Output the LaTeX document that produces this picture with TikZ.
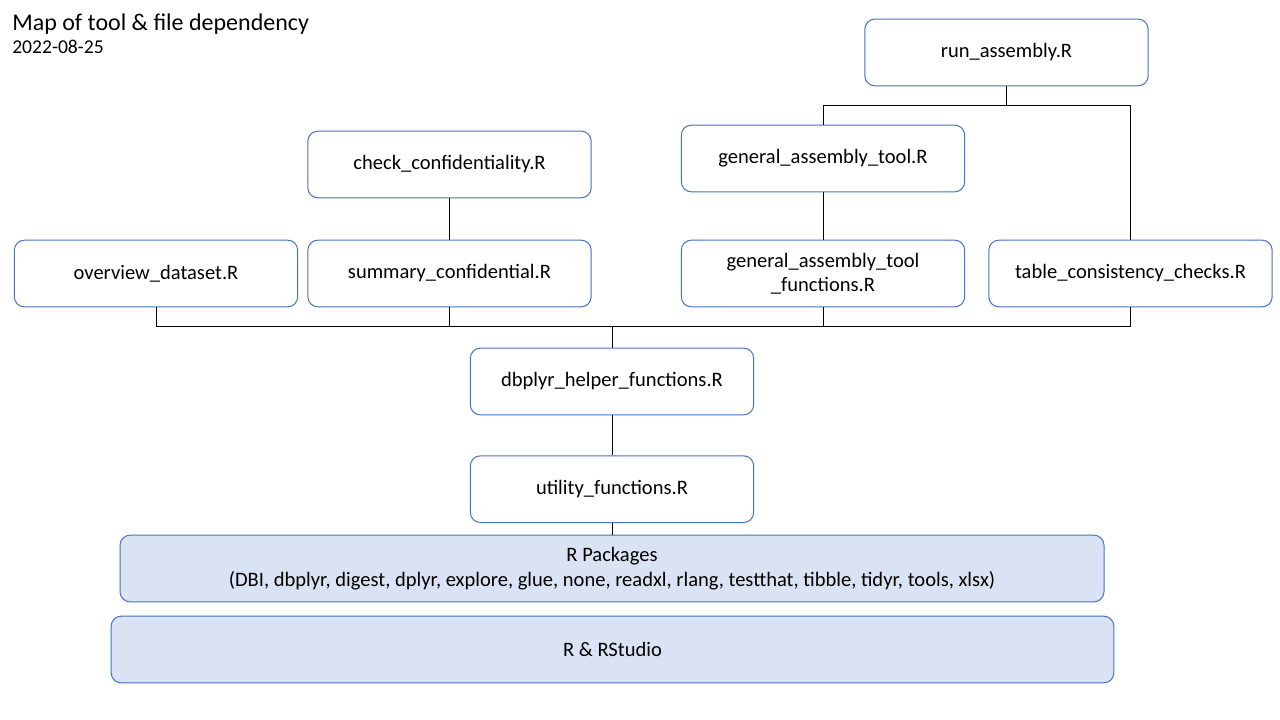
\documentclass[tikz,border=0pt]{standalone}
\usepackage{fontspec}
\setmainfont{Carlito}
\usetikzlibrary{positioning, calc}

\definecolor{boxblue}{HTML}{4472C4}
\definecolor{basefill}{HTML}{DAE3F3}

\begin{document}
\begin{tikzpicture}[
    x=0.75pt, y=-0.75pt,
    font=\fontsize{15.4}{18.2}\selectfont,
    % Define styles for the different node types
    filebox/.style={rectangle, rounded corners=7.5pt, draw=boxblue, fill=white, line width=0.75pt, align=center, minimum width=212.5pt, minimum height=50pt, inner sep=0pt},
    basebox/.style={filebox, fill=basefill},
    link/.style={line width=0.75pt, draw=black},
]
\useasboundingbox (0,0) rectangle (1280,720);

% -------------------------
% Title
% -------------------------
\node (title) [anchor=base west, inner sep=0pt, font=\fontsize{18}{22}\selectfont] at (12,31) {Map of tool \& file dependency};
\node (date) [anchor=base west, inner sep=0pt, font=\fontsize{14.7}{17}\selectfont] at (12,54) {2022-08-25};

% -------------------------
% Tool and file nodes
% -------------------------
\node (run) [filebox] at (1006.5,52.5) {run\_assembly.R};
\node (check) [filebox] at (449.5,164.5) {check\_confidentiality.R};
\node (gat) [filebox] at (823,158.5) {general\_assembly\_tool.R};

\node (overview) [filebox] at (156,273.5) {overview\_dataset.R};
\node (summary) [filebox] at (449.5,273.5) {summary\_confidential.R};
\node (gatfun) [filebox] at (823,273.5) {general\_assembly\_tool\\\_functions.R};
\node (tcc) [filebox] at (1130.5,273.5) {table\_consistency\_checks.R};

\node (dbh) [filebox] at (612,381.5) {dbplyr\_helper\_functions.R};
\node (util) [filebox, below=30pt of dbh] {utility\_functions.R};

% Base layers
\node (pkgs) [basebox, minimum width=738pt] at (612,568.5) {R Packages\\(DBI, dbplyr, digest, dplyr, explore, glue, none, readxl, rlang, testthat, tibble, tidyr, tools, xlsx)};
\node (rstudio) [basebox, minimum width=752pt] at (612.5,649.5) {R \& RStudio};

% -------------------------
% Connections
% -------------------------

% run_assembly to its two branches
\coordinate (runsplit) at ($(run.south)+(0,19)$);
\draw[link] (run.south) -- (runsplit);
\draw[link] (runsplit) -| (gat.north);
\draw[link] (runsplit) -| (tcc.north);

% Single links
\draw[link] (check.south) -- (summary.north);
\draw[link] (gat.south) -- (gatfun.north);

% Bus into dbplyr helpers
\coordinate (bus) at ($(dbh.north)+(0,-21)$);
\draw[link] (overview.south) |- (bus);
\draw[link] (summary.south) |- (bus);
\draw[link] (gatfun.south) |- (bus);
\draw[link] (tcc.south) |- (bus);
\draw[link] (bus) -- (dbh.north);

% Down to the base
\draw[link] (dbh) -- (util);
\draw[link] (util) -- (pkgs);

\end{tikzpicture}
\end{document}
